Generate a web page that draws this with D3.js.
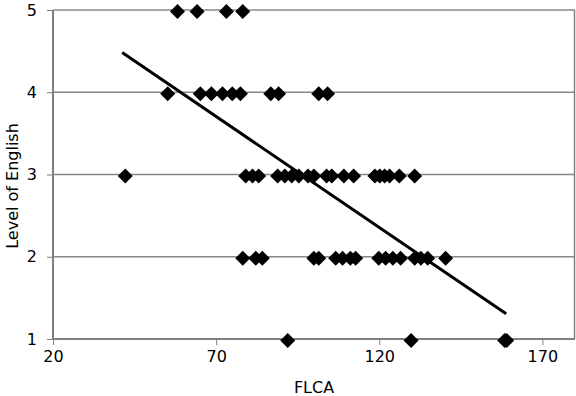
<!DOCTYPE html>
<html lang="en">
  <head>
    <meta charset="utf-8" />
    <title>FLCA vs Level of English</title>
    <script type="text/javascript" src="https://cdn.jsdelivr.net/npm/d3@7"></script>
    <style type="text/css">
body { margin: 0; background: white; }
svg text { font-family: "DejaVu Sans", sans-serif; font-size: 16px; fill: #000; }
    </style>
  </head>
  <body>
    <script type="text/javascript">
// values, one array per level
var level5 = [58, 64, 73, 78];
var level4 = [55, 65, 68.4, 71.8, 74.8, 77.3, 86.6, 89, 101.3, 104];
var level3 = [42, 78.9, 81, 82.9, 88.7, 90.9, 93, 95.2, 98, 99.8, 103.7, 105.3,
              109, 112, 118.5, 120, 121.5, 123, 126, 130.7];
var level2 = [78, 82, 84, 99.8, 101.3, 106.5, 108.6, 111, 112.6, 119.7, 121.8,
              124, 126.4, 130.7, 132.6, 134.7, 140.2];
var level1 = [91.8, 129.6, 158.3, 158.9];
var levels = [1, 2, 3, 4, 5];
var xTicks = [20, 70, 120, 170];
// linear trend line
var trendSlope = -0.02699;
var trendIntercept = 5.595;

var w = 576, h = 396;
var pad = { left: 53, right: 1, top: 10, bottom: 57 };

var points = [];
[level1, level2, level3, level4, level5].forEach(function(arr, i) {
  arr.forEach(function(v) { points.push({ x: v, y: levels[i] }); });
});

var svg = d3.select("body").append("svg")
            .attr("width", w)
            .attr("height", h);

var xScale = d3.scaleLinear().domain([20, 180]).range([pad.left, w - pad.right]);
var yScale = d3.scaleLinear().domain([1, 5]).range([h - pad.bottom, pad.top]);

// gridlines
svg.append("g")
   .selectAll("line")
   .data(levels.slice(1))
   .enter()
   .append("line")
   .attr("x1", pad.left)
   .attr("x2", w - pad.right)
   .attr("y1", function(d) { return yScale(d); })
   .attr("y2", function(d) { return yScale(d); })
   .attr("stroke", "#888")
   .attr("stroke-width", 1.3);

// right border of plot area
svg.append("line")
   .attr("x1", w - pad.right - 0.5).attr("x2", w - pad.right - 0.5)
   .attr("y1", pad.top).attr("y2", h - pad.bottom)
   .attr("stroke", "#808080")
   .attr("stroke-width", 1.5);

var xAxis = svg.append("g")
   .attr("transform", "translate(0," + yScale(1) + ")")
   .call(d3.axisBottom(xScale).tickValues(xTicks).tickSize(6).tickPadding(6));
var yAxis = svg.append("g")
   .attr("transform", "translate(" + pad.left + ",0)")
   .call(d3.axisLeft(yScale).tickValues(levels).tickFormat(d3.format("d"))
           .tickSize(6).tickPadding(10));
[xAxis, yAxis].forEach(function(ax) {
  ax.select(".domain").attr("stroke", "#808080").attr("stroke-width", 2);
  ax.selectAll(".tick line").attr("stroke", "#808080").attr("stroke-width", 1);
  ax.selectAll("text").attr("font-size", "16px")
    .attr("font-family", "DejaVu Sans, sans-serif").attr("fill", "#000");
});
xAxis.select(".domain").attr("d", "M" + pad.left + ",0H" + (w - pad.right));
yAxis.select(".domain").attr("d", "M0," + yScale(5) + "V" + yScale(1));

// diamond markers
var r = 7.5;
svg.append("g")
   .selectAll("path")
   .data(points)
   .enter()
   .append("path")
   .attr("transform", function(d) {
     return "translate(" + (xScale(d.x) + 0.5) + "," + (yScale(d.y) + 1.5) + ")";
   })
   .attr("d", "M0," + (-r) + "L" + r + ",0L0," + r + "L" + (-r) + ",0Z")
   .attr("fill", "#000");

// trend line across the data range
var xExt = d3.extent(points, function(d) { return d.x; });
var line = d3.line()
             .x(function(d) { return xScale(d); })
             .y(function(d) { return yScale(trendIntercept + trendSlope * d); });
svg.append("path")
   .datum([xExt[0] - 0.8, xExt[1]])
   .attr("d", line)
   .attr("fill", "none")
   .attr("stroke", "#000")
   .attr("stroke-width", 3);

// axis titles
svg.append("text")
   .attr("x", (pad.left + w - pad.right) / 2)
   .attr("y", 393)
   .attr("text-anchor", "middle")
   .text("FLCA");
svg.append("text")
   .attr("transform", "translate(18,186) rotate(-90)")
   .attr("text-anchor", "middle")
   .text("Level of English");
    </script>
  </body>
</html>
